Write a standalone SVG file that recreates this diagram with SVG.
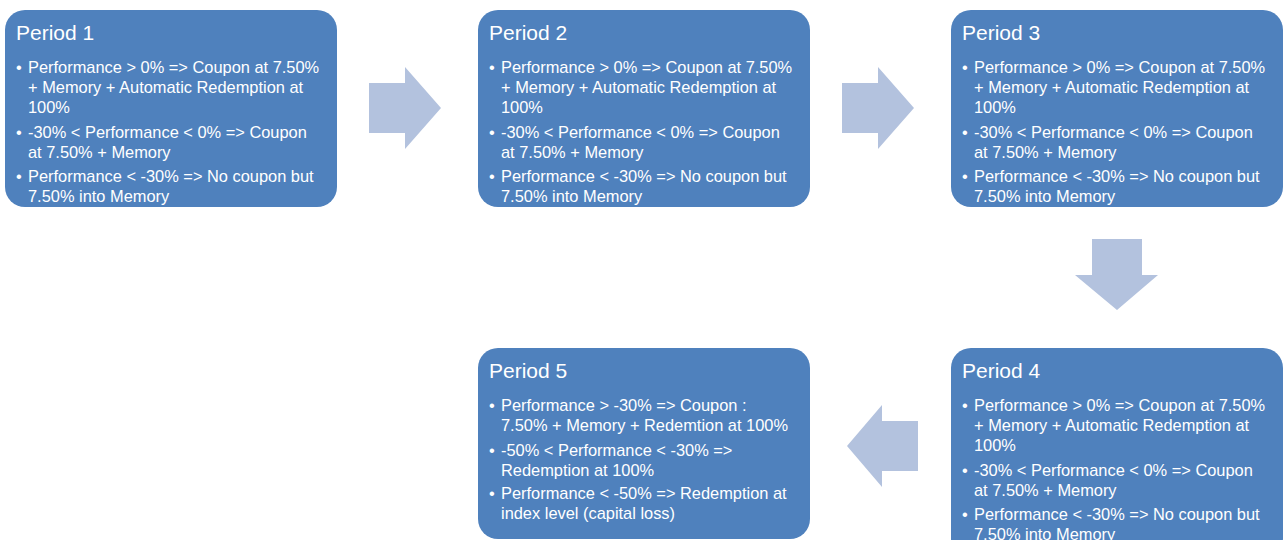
<svg xmlns="http://www.w3.org/2000/svg" width="1288" height="540" viewBox="0 0 1288 540">
<style>
.box{fill:#4F81BD;}
.arr{fill:#B3C2DE;}
.t{font-family:"Liberation Sans",Arial,sans-serif;fill:#FFFFFF;}
.h{font-size:21px;}
.b{font-size:16.4px;}
</style>
<rect width="1288" height="540" fill="#FFFFFF"/>
<g id="connectors">
<polygon class="arr" points="369,83 405,83 405,67 441,108 405,149 405,133 369,133"/>
<polygon class="arr" points="842,83 878,83 878,67 914,108 878,149 878,133 842,133"/>
<polygon class="arr" points="1092,239 1142,239 1142,275 1158,275 1117,310 1075,275 1092,275"/>
<polygon class="arr" points="918,421 882,421 882,405 847,446 882,487 882,471 918,471"/>
</g>
<g id="period1">
<rect class="box" x="5" y="10" width="332" height="197" rx="20"/>
<text class="t h" x="16" y="40">Period 1</text>
<text class="t b"><tspan x="16" y="73">•</tspan><tspan x="28" y="73">Performance &gt; 0% =&gt; Coupon at 7.50%</tspan><tspan x="28" y="93">+ Memory + Automatic Redemption at</tspan><tspan x="28" y="113">100%</tspan><tspan x="16" y="138">•</tspan><tspan x="28" y="138">-30% &lt; Performance &lt; 0% =&gt; Coupon</tspan><tspan x="28" y="158">at 7.50% + Memory</tspan><tspan x="16" y="182">•</tspan><tspan x="28" y="182">Performance &lt; -30% =&gt; No coupon but</tspan><tspan x="28" y="202">7.50% into Memory</tspan></text>
</g>
<g id="period2">
<rect class="box" x="478" y="10" width="332" height="197" rx="20"/>
<text class="t h" x="489" y="40">Period 2</text>
<text class="t b"><tspan x="489" y="73">•</tspan><tspan x="501" y="73">Performance &gt; 0% =&gt; Coupon at 7.50%</tspan><tspan x="501" y="93">+ Memory + Automatic Redemption at</tspan><tspan x="501" y="113">100%</tspan><tspan x="489" y="138">•</tspan><tspan x="501" y="138">-30% &lt; Performance &lt; 0% =&gt; Coupon</tspan><tspan x="501" y="158">at 7.50% + Memory</tspan><tspan x="489" y="182">•</tspan><tspan x="501" y="182">Performance &lt; -30% =&gt; No coupon but</tspan><tspan x="501" y="202">7.50% into Memory</tspan></text>
</g>
<g id="period3">
<rect class="box" x="951" y="10" width="332" height="197" rx="20"/>
<text class="t h" x="962" y="40">Period 3</text>
<text class="t b"><tspan x="962" y="73">•</tspan><tspan x="974" y="73">Performance &gt; 0% =&gt; Coupon at 7.50%</tspan><tspan x="974" y="93">+ Memory + Automatic Redemption at</tspan><tspan x="974" y="113">100%</tspan><tspan x="962" y="138">•</tspan><tspan x="974" y="138">-30% &lt; Performance &lt; 0% =&gt; Coupon</tspan><tspan x="974" y="158">at 7.50% + Memory</tspan><tspan x="962" y="182">•</tspan><tspan x="974" y="182">Performance &lt; -30% =&gt; No coupon but</tspan><tspan x="974" y="202">7.50% into Memory</tspan></text>
</g>
<g id="period4">
<rect class="box" x="951" y="348" width="332" height="210" rx="20"/>
<text class="t h" x="962" y="378">Period 4</text>
<text class="t b"><tspan x="962" y="411">•</tspan><tspan x="974" y="411">Performance &gt; 0% =&gt; Coupon at 7.50%</tspan><tspan x="974" y="431">+ Memory + Automatic Redemption at</tspan><tspan x="974" y="451">100%</tspan><tspan x="962" y="476">•</tspan><tspan x="974" y="476">-30% &lt; Performance &lt; 0% =&gt; Coupon</tspan><tspan x="974" y="496">at 7.50% + Memory</tspan><tspan x="962" y="520">•</tspan><tspan x="974" y="520">Performance &lt; -30% =&gt; No coupon but</tspan><tspan x="974" y="540">7.50% into Memory</tspan></text>
</g>
<g id="period5">
<rect class="box" x="478" y="348" width="332" height="191" rx="20"/>
<text class="t h" x="489" y="378">Period 5</text>
<text class="t b"><tspan x="489" y="411">•</tspan><tspan x="501" y="411">Performance &gt; -30% =&gt; Coupon :</tspan><tspan x="501" y="431">7.50% + Memory + Redemtion at 100%</tspan><tspan x="489" y="456">•</tspan><tspan x="501" y="456">-50% &lt; Performance &lt; -30% =&gt;</tspan><tspan x="501" y="476">Redemption at 100%</tspan><tspan x="489" y="499">•</tspan><tspan x="501" y="499">Performance &lt; -50% =&gt; Redemption at</tspan><tspan x="501" y="519">index level (capital loss)</tspan></text>
</g>
</svg>
